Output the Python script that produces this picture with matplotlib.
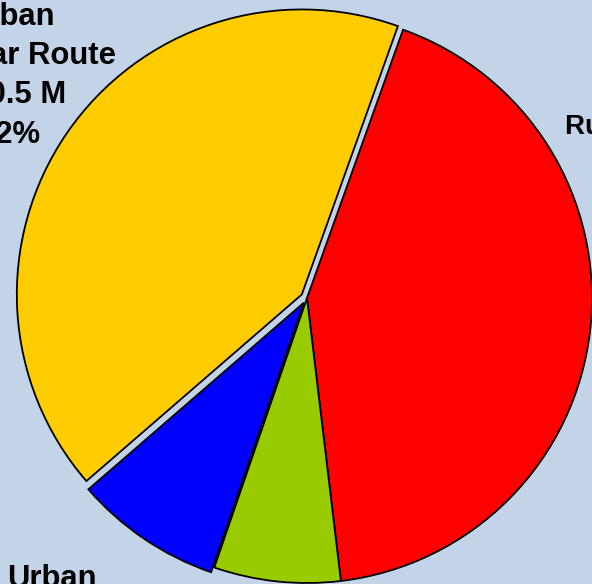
import matplotlib
matplotlib.use("Agg")
import matplotlib.pyplot as plt

# Data (millions of dollars)
categories = ["Rural Regular Route", "Rural Dial-a-Ride", "Urban Dial-a-Ride", "Urban Regular Route"]
values = [10.7, 1.8, 2.1, 10.5]
colors = ["#FF0000", "#99CC00", "#0000FF", "#FFCC00"]
explode_frac = [0.0, 0.0, 0.02, 0.022]

W, H = 592, 584
R = 285
fig = plt.figure(figsize=(W / 100, H / 100), dpi=100)
bg = "#C4D4E8"
fig.patch.set_facecolor(bg)
ax = fig.add_axes([0, 0, 1, 1])
ax.set_facecolor(bg)

ax.pie(values, colors=colors, explode=[e * R for e in explode_frac], startangle=70.3,
       counterclock=False, center=(307, H - 298), radius=R, frame=True,
       wedgeprops=dict(edgecolor="black", linewidth=1.3))
ax.set_xlim(0, W)
ax.set_ylim(0, H)
ax.set_aspect("equal")
ax.axis("off")

total = sum(values)
font = "Liberation Sans"

def label(i):
    first, rest = categories[i].split(" ", 1)
    return f"{first}\n{rest}\n${values[i]:.1f} M\n{values[i] / total * 100:.0f}%"

# Yellow (Urban Regular Route)
ax.text(10, H - 2, label(3), ha="center", va="top", fontsize=22.3, fontweight="bold",
        family=font, linespacing=1.4, color="black")
# Red (Rural Regular Route)
ax.text(565, H - 134, categories[0], ha="left", va="baseline", fontsize=20, fontweight="bold",
        family=font, color="black")
# Blue (Urban Dial-a-Ride)
ax.text(52, H - 564, label(2), ha="center", va="top", fontsize=22.3, fontweight="bold",
        family=font, linespacing=1.4, color="black")

fig.savefig("out.png", dpi=100, facecolor=bg)
